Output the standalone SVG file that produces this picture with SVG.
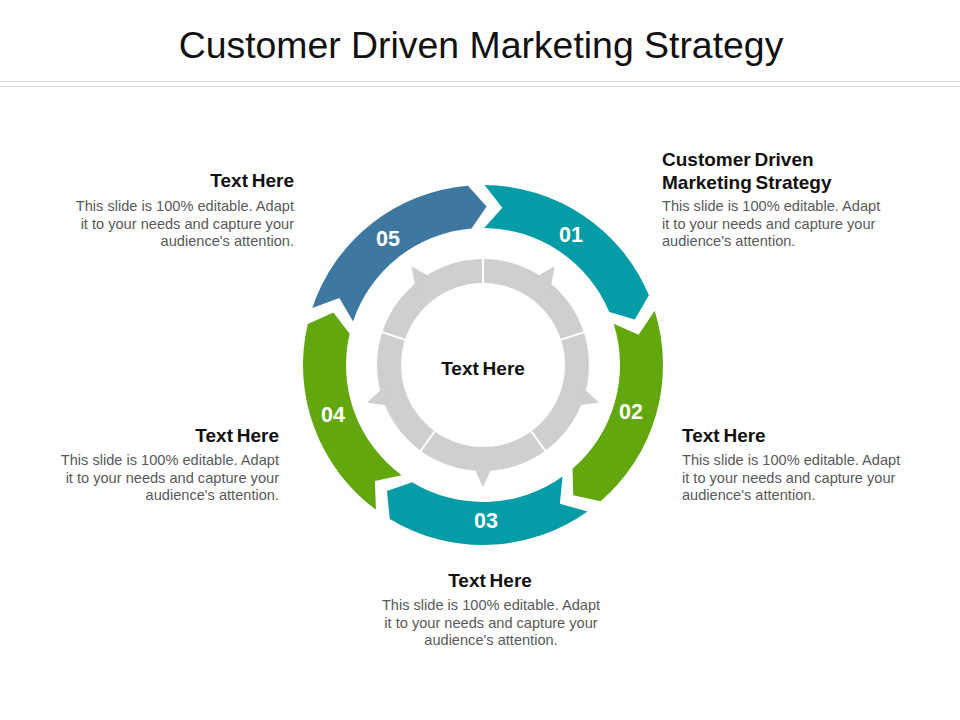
<svg xmlns="http://www.w3.org/2000/svg" xmlns:xlink="http://www.w3.org/1999/xlink" width="960" height="720" viewBox="0 0 960 720">
  <style>
    .title { font-family: "Liberation Sans", Arial, sans-serif; font-size: 37.4px; fill: #111111; text-anchor: middle; }
    .head { font-family: "Liberation Sans", Arial, sans-serif; font-size: 19px; font-weight: bold; fill: #111111; word-spacing: -1.5px; }
    .desc { font-family: "Liberation Sans", Arial, sans-serif; font-size: 14.6px; fill: #595959; }
    .num { font-family: "Liberation Sans", Arial, sans-serif; font-size: 21.5px; font-weight: bold; fill: #ffffff; text-anchor: middle; }
    .teal { fill: #039CA7; }
    .green { fill: #61A70D; }
    .blue { fill: #3E78A0; }
    .gray { fill: #CFCFD0; }
    .divider { stroke: #ffffff; stroke-width: 2; }
  </style>
  <defs>
    <path id="seg" d="M 484.57 185.0 A 180 180 0 0 1 648.93 295.25 L 634.81 319.45 L 609.29 311.91 A 137 137 0 0 0 484.20 228.0 L 502.32 207.68 Z"/>
    <polygon id="pointer" points="472.55,464.45 483,487 493.45,464.45"/>
    <line id="div" x1="483" y1="289" x2="483" y2="252"/>
  </defs>
  <rect width="960" height="720" fill="#ffffff"/>

  <g id="header">
    <text class="title" x="481" y="58">Customer Driven Marketing Strategy</text>
    <line x1="0" y1="81.5" x2="960" y2="81.5" stroke="#dcdcdc" stroke-width="1.2"/>
    <line x1="0" y1="86.5" x2="960" y2="86.5" stroke="#dcdcdc" stroke-width="1.2"/>
  </g>

  <g id="connectors"></g>

  <g id="hub">
    <circle cx="483" cy="365" r="94" fill="none" stroke="#CFCFD0" stroke-width="24"/>
    <use xlink:href="#pointer" class="gray"/>
    <use xlink:href="#pointer" class="gray" transform="rotate(72 483 365)"/>
    <use xlink:href="#pointer" class="gray" transform="rotate(144 483 365)"/>
    <use xlink:href="#pointer" class="gray" transform="rotate(216 483 365)"/>
    <use xlink:href="#pointer" class="gray" transform="rotate(288 483 365)"/>
    <use xlink:href="#div" class="divider"/>
    <use xlink:href="#div" class="divider" transform="rotate(72 483 365)"/>
    <use xlink:href="#div" class="divider" transform="rotate(144 483 365)"/>
    <use xlink:href="#div" class="divider" transform="rotate(216 483 365)"/>
    <use xlink:href="#div" class="divider" transform="rotate(288 483 365)"/>
    <text class="head" x="483" y="374.5" text-anchor="middle">Text Here</text>
  </g>

  <g id="node-01">
    <use xlink:href="#seg" class="teal"/>
    <text class="num" x="571" y="241.5">01</text>
  </g>
  <g id="node-02">
    <use xlink:href="#seg" class="green" transform="rotate(72 483 365)"/>
    <text class="num" x="631" y="418.5">02</text>
  </g>
  <g id="node-03">
    <use xlink:href="#seg" class="teal" transform="rotate(144 483 365)"/>
    <text class="num" x="486" y="527.5">03</text>
  </g>
  <g id="node-04">
    <use xlink:href="#seg" class="green" transform="rotate(216 483 365)"/>
    <text class="num" x="333" y="421.5">04</text>
  </g>
  <g id="node-05">
    <use xlink:href="#seg" class="blue" transform="rotate(288 483 365)"/>
    <text class="num" x="388" y="245.5">05</text>
  </g>

  <g id="text-01">
    <text class="head" x="662" y="166">Customer Driven</text>
    <text class="head" x="662" y="189">Marketing Strategy</text>
    <text class="desc" x="662" y="211">This slide is 100% editable.  Adapt</text>
    <text class="desc" x="662" y="228.5">it to your needs and capture your</text>
    <text class="desc" x="662" y="246">audience's attention.</text>
  </g>
  <g id="text-02">
    <text class="head" x="682" y="442">Text Here</text>
    <text class="desc" x="682" y="465">This slide is 100% editable.  Adapt</text>
    <text class="desc" x="682" y="482.5">it to your needs and capture your</text>
    <text class="desc" x="682" y="500">audience's attention.</text>
  </g>
  <g id="text-03" text-anchor="middle">
    <text class="head" x="490" y="587">Text Here</text>
    <text class="desc" x="491" y="610">This slide is 100% editable.  Adapt</text>
    <text class="desc" x="491" y="627.5">it to your needs and capture your</text>
    <text class="desc" x="491" y="645">audience's attention.</text>
  </g>
  <g id="text-04" text-anchor="end">
    <text class="head" x="279" y="442">Text Here</text>
    <text class="desc" x="279" y="465">This slide is 100% editable.  Adapt</text>
    <text class="desc" x="279" y="482.5">it to your needs and capture your</text>
    <text class="desc" x="279" y="500">audience's attention.</text>
  </g>
  <g id="text-05" text-anchor="end">
    <text class="head" x="294" y="187">Text Here</text>
    <text class="desc" x="294" y="211">This slide is 100% editable.  Adapt</text>
    <text class="desc" x="294" y="228.5">it to your needs and capture your</text>
    <text class="desc" x="294" y="246">audience's attention.</text>
  </g>
</svg>
